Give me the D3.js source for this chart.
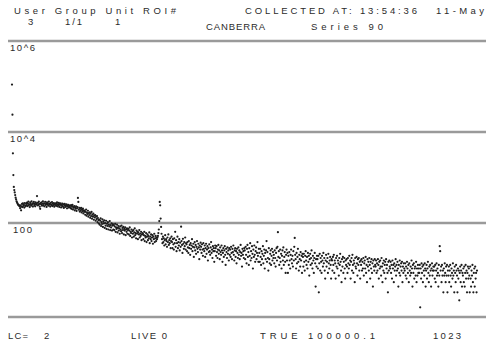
<!DOCTYPE html>
<html>
<head>
<meta charset="utf-8">
<script src="https://cdn.jsdelivr.net/npm/d3@7"></script>
<style>
    body { margin: 0; background: #fff; }
    svg text { font-family: "Liberation Sans", Arial, sans-serif; fill: #2b2b2b; }
    .grid-line { stroke: #9a9a9a; stroke-width: 2.4; }
    .dot { fill: #1c1c1c; }
</style>
</head>
<body>
<svg id="chart"></svg>
<script>
// Header / footer text of the MCA printout
const headerTop = ["User Group Unit ROI#", "COLLECTED AT: 13:54:36", "11-May"];
const headerSub = ["3", "1/1", "1", "CANBERRA", "Series 90"];
const footerLabels = ["LC=", "2", "LIVE 0", "TRUE 100000.1", "1023"];

// log axis decades that get a rule + label
const gridValues = [1e6, 1e4, 1e2];
const gridLabels = ["10^6", "10^4", "100"];

// counts per channel 0..1023 (32 channels per row)
const counts = [
    110000, 24000, 3400, 1130, 620, 530, 470, 410, 360, 330, 300, 285, 270, 258, 250, 244, 240, 232, 212, 245, 190, 230, 262, 224, 270, 238, 255, 218, 275, 242, 232, 268,
    248, 282, 236, 266, 295, 245, 258, 224, 284, 262, 240, 300, 252, 272, 230, 268, 290, 248, 262, 232, 285, 256, 270, 390, 244, 278, 250, 296, 262, 228, 205, 274,
    258, 286, 240, 265, 300, 248, 272, 232, 268, 292, 250, 262, 226, 284, 255, 270, 240, 296, 252, 264, 230, 278, 256, 244, 288, 236, 266, 250, 275, 228, 262, 248,
    270, 238, 262, 284, 232, 256, 246, 276, 226, 260, 250, 272, 220, 255, 240, 266, 230, 258, 214, 248, 262, 226, 244, 236, 258, 210, 245, 232, 252, 218, 240, 225,
    238, 212, 246, 205, 228, 250, 198, 225, 215, 236, 190, 222, 206, 232, 184, 210, 224, 355, 290, 196, 216, 178, 205, 188, 214, 170, 198, 182, 206, 162, 190, 176,
    184, 152, 176, 198, 145, 168, 158, 186, 138, 165, 150, 172, 130, 160, 142, 175, 124, 152, 138, 160, 118, 145, 132, 150, 112, 138, 122, 142, 105, 128, 116, 98,
    118, 92, 112, 126, 86, 104, 95, 120, 82, 108, 98, 115, 78, 100, 88, 112, 74, 96, 86, 104, 72, 92, 84, 110, 70, 90, 80, 98, 68, 88, 94, 72,
    90, 70, 84, 96, 64, 80, 74, 92, 62, 78, 86, 68, 76, 58, 84, 72, 66, 88, 60, 78, 70, 82, 56, 74, 68, 80, 54, 72, 64, 76, 58, 70,
    74, 56, 68, 80, 52, 64, 60, 72, 48, 66, 58, 70, 50, 62, 76, 54, 60, 46, 68, 58, 64, 44, 62, 56, 70, 48, 58, 52, 64, 42, 56, 60,
    58, 44, 54, 64, 40, 52, 48, 60, 38, 50, 56, 42, 52, 46, 62, 36, 50, 44, 56, 40, 48, 54, 35, 50, 44, 58, 38, 46, 52, 40, 48, 44,
    48, 52, 60, 72, 110, 290, 245, 125, 82, 58, 44, 36, 50, 38, 46, 32, 42, 54, 34, 44, 40, 30, 48, 38, 56, 33, 42, 36, 46, 28, 40, 50,
    38, 28, 44, 34, 26, 46, 36, 64, 30, 42, 24, 36, 50, 28, 38, 32, 44, 25, 37, 30, 83, 40, 33, 22, 45, 35, 27, 38, 31, 48, 26, 36,
    34, 24, 38, 29, 22, 40, 28, 33, 20, 36, 27, 32, 44, 24, 30, 35, 18, 29, 38, 25, 33, 21, 30, 40, 27, 23, 35, 29, 16, 32, 26, 37,
    30, 22, 34, 26, 19, 36, 27, 24, 32, 18, 28, 35, 21, 26, 31, 15, 28, 23, 34, 24, 20, 29, 38, 22, 26, 17, 31, 24, 28, 14, 24, 32,
    28, 19, 31, 23, 17, 26, 33, 21, 25, 16, 29, 23, 20, 32, 25, 14, 22, 28, 18, 25, 31, 20, 12, 27, 23, 17, 29, 21, 25, 15, 28, 20,
    26, 18, 30, 22, 16, 27, 23, 32, 20, 15, 25, 28, 18, 24, 13, 27, 22, 17, 29, 20, 25, 16, 23, 33, 19, 22, 11, 27, 20, 24, 17, 28,
    25, 16, 30, 20, 13, 27, 33, 18, 23, 12, 28, 19, 36, 15, 24, 17, 31, 21, 10, 26, 18, 32, 20, 14, 24, 29, 16, 22, 38, 19, 14, 27,
    22, 14, 27, 18, 12, 24, 16, 21, 31, 13, 19, 26, 10, 22, 16, 25, 40, 14, 23, 17, 9, 28, 16, 13, 21, 25, 12, 19, 27, 15, 23, 17,
    20, 13, 25, 17, 11, 22, 28, 15, 30, 63, 18, 24, 12, 17, 26, 14, 21, 10, 19, 25, 15, 29, 12, 18, 23, 14, 8, 20, 26, 15, 22, 8,
    19, 12, 23, 15, 10, 20, 26, 16, 13, 19, 11, 24, 15, 30, 47, 20, 16, 10, 22, 13, 18, 27, 14, 9, 20, 16, 11, 23, 15, 19, 8, 21,
    18, 11, 21, 14, 9, 19, 24, 15, 12, 18, 10, 22, 14, 19, 7, 16, 21, 12, 17, 25, 13, 10, 19, 15, 8, 17, 22, 13, 4, 16, 11, 19,
    16, 10, 19, 3, 13, 21, 9, 17, 14, 8, 19, 15, 11, 22, 13, 17, 9, 6, 15, 20, 11, 14, 17, 8, 21, 13, 10, 15, 18, 12, 6, 16,
    15, 9, 18, 12, 20, 8, 15, 13, 6, 17, 11, 19, 10, 15, 13, 7, 17, 12, 21, 14, 9, 5, 16, 11, 18, 8, 14, 17, 10, 6, 15, 12,
    16, 11, 8, 17, 13, 10, 19, 12, 15, 6, 14, 17, 9, 20, 12, 8, 15, 13, 5, 17, 11, 10, 18, 13, 7, 16, 12, 17, 9, 14, 6, 15,
    12, 16, 9, 14, 10, 17, 7, 13, 15, 10, 18, 8, 12, 5, 16, 11, 14, 9, 17, 12, 6, 14, 10, 16, 8, 13, 4, 15, 11, 9, 16, 12,
    11, 15, 8, 13, 9, 16, 12, 6, 14, 10, 15, 11, 7, 17, 11, 5, 13, 9, 15, 8, 12, 14, 6, 16, 10, 12, 8, 3, 14, 9, 15, 11,
    10, 14, 8, 12, 6, 15, 10, 12, 5, 13, 9, 11, 16, 7, 12, 9, 14, 10, 4, 12, 8, 15, 7, 11, 13, 9, 14, 5, 11, 8, 13, 10,
    9, 13, 7, 11, 6, 14, 10, 8, 12, 5, 13, 9, 7, 11, 8, 15, 10, 4, 12, 8, 13, 6, 10, 11, 7, 14, 5, 10, 7, 12, 8, 10,
    8, 12, 1.4, 10, 6, 13, 8, 11, 5, 12, 9, 7, 13, 10, 4, 9, 12, 6, 10, 14, 8, 5, 11, 7, 12, 9, 4, 10, 13, 7, 9, 11,
    9, 11, 6, 12, 5, 9, 13, 7, 10, 8, 4, 12, 7, 31, 24, 9, 11, 5, 12, 7, 9, 3, 10, 7, 13, 8, 5, 11, 7, 12, 3, 9,
    7, 11, 5, 9, 12, 7, 4, 10, 8, 6, 13, 7, 9, 3, 11, 8, 5, 12, 9, 7, 3, 10, 6, 9, 2, 8, 11, 5, 9, 12, 4, 8,
    7, 10, 5, 11, 4, 8, 12, 6, 9, 3, 8, 11, 6, 10, 7, 3, 11, 6, 4, 9, 7, 12, 5, 3, 8, 10, 4, 11, 6, 8, 3, 9
];

class SpectrumChart {

    constructor(_config) {
        this.config = {
            parentElement: _config.parentElement,
            containerWidth: 486,
            containerHeight: 345,
            plotLeft: 12,
            plotRight: 477,
            ruleLeft: 8,
            yTop: 41,
            yBottom: 314
        };
        this.initVis();
    }

    initVis() {
        let vis = this;
        const c = vis.config;

        vis.svg = d3.select(c.parentElement)
            .attr('width', c.containerWidth)
            .attr('height', c.containerHeight);

        vis.xScale = d3.scaleLinear()
            .domain([0, counts.length - 1])
            .range([c.plotLeft, c.plotRight]);

        vis.yScale = d3.scaleLog()
            .domain([1, 1e6])
            .range([c.yBottom, c.yTop]);

        vis.renderVis();
    }

    renderVis() {
        let vis = this;
        const c = vis.config;

        // decade rules with their labels just below
        vis.svg.selectAll('.grid-line')
            .data(gridValues)
            .join('line')
            .attr('class', 'grid-line')
            .attr('x1', c.ruleLeft)
            .attr('x2', c.containerWidth)
            .attr('y1', d => vis.yScale(d))
            .attr('y2', d => vis.yScale(d));

        vis.svg.selectAll('.grid-label')
            .data(gridValues)
            .join('text')
            .attr('class', 'grid-label')
            .attr('x', (d, i) => i === 2 ? 13 : 10)
            .attr('y', d => vis.yScale(d) + 10)
            .attr('textLength', (d, i) => i === 2 ? 19 : 25)
            .attr('lengthAdjust', 'spacing')
            .style('font-size', '9.5px')
            .text((d, i) => gridLabels[i]);

        // bottom baseline
        vis.svg.append('line')
            .attr('class', 'grid-line')
            .attr('x1', c.ruleLeft)
            .attr('x2', c.containerWidth)
            .attr('y1', vis.yScale(1) + 3)
            .attr('y2', vis.yScale(1) + 3);

        // channel counts
        vis.svg.append('g')
            .selectAll('.dot')
            .data(counts)
            .join('circle')
            .attr('class', 'dot')
            .attr('cx', (d, i) => vis.xScale(i))
            .attr('cy', d => vis.yScale(d))
            .attr('r', 1.1);

        // text blocks: [x, baseline, width] (width 0 = natural)
        const topPos = [[14, 14, 162], [245, 14, 172], [436, 14, 48]];
        const subPos = [[28, 25, 0], [65, 25, 17], [115, 25, 0], [206, 30, 59], [311, 30, 72]];
        const footPos = [[8, 339, 20], [44, 339, 0], [131, 339, 36], [260, 339, 115], [433, 339, 28]];

        const writeBlock = (labels, pos, cls) => {
            vis.svg.selectAll('.' + cls)
                .data(labels)
                .join('text')
                .attr('class', cls)
                .attr('x', (d, i) => pos[i][0])
                .attr('y', (d, i) => pos[i][1])
                .attr('textLength', (d, i) => pos[i][2] > 0 ? pos[i][2] : null)
                .attr('lengthAdjust', 'spacing')
                .style('font-size', '9.5px')
                .text(d => d);
        };

        writeBlock(headerTop, topPos, 'head-top');
        writeBlock(headerSub, subPos, 'head-sub');
        writeBlock(footerLabels, footPos, 'foot');
    }
}

new SpectrumChart({parentElement: '#chart'});
</script>
</body>
</html>
